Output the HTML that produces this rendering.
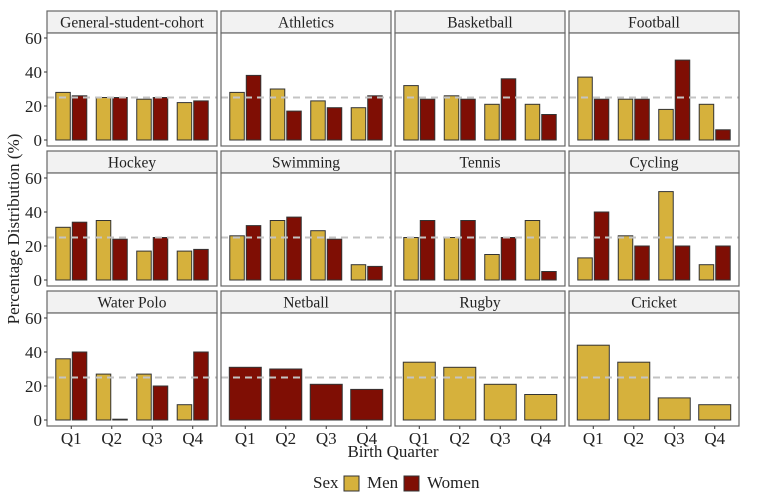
<!DOCTYPE html>
<html><head><meta charset="utf-8"><style>
html,body{margin:0;padding:0;background:#fff;}
svg{display:block;}
svg text{font-family:"Liberation Serif","DejaVu Serif",serif;}
</style></head><body>
<svg id="chart" width="777" height="502" viewBox="0 0 777 502"></svg>
<script>
const panels = ["General-student-cohort","Athletics","Basketball","Football","Hockey","Swimming","Tennis","Cycling","Water Polo","Netball","Rugby","Cricket"];
const quarters = ["Q1","Q2","Q3","Q4"];
const yTicks = [0,20,40,60];
const menValues = [
  [28,25,24,22],[28,30,23,19],[32,26,21,21],[37,24,18,21],
  [31,35,17,17],[26,35,29,9],[25,25,15,35],[13,26,52,9],
  [36,27,27,9],null,[34,31,21,15],[44,34,13,9]];
const womenValues = [
  [26,25,25,23],[38,17,19,26],[24,24,36,15],[24,24,47,6],
  [34,24,25,18],[32,37,24,8],[35,35,25,5],[40,20,20,20],
  [40,0,20,40],[31,30,21,18],null,null];
const refLine = 25;

const svg = document.getElementById('chart');
const NS = 'http://www.w3.org/2000/svg';
const FF = '"Liberation Serif", "DejaVu Serif", serif';
function mk(tag, attrs, parent){const e=document.createElementNS(NS,tag);for(const k in attrs)e.setAttribute(k,attrs[k]);if(tag==='text')e.setAttribute('font-family',FF);(parent||svg).appendChild(e);return e;}
const MEN='#d6b13c', WOMEN='#7f0e04';
const colX=[47,221,395,569], pw=170;
const rowTop=[11,151,291];
const unit=pw/4.2;

panels.forEach((name,i)=>{
  const c=i%4, r=Math.floor(i/4);
  const x0=colX[c], top=rowTop[r];
  const stripH=22, plotTop=top+stripH, plotBot=plotTop+113;
  const y0=plotTop+107, yScale=v=>y0-v*(102/60);
  const xScale=q=>x0+(0.6+q)*unit;
  const g=mk('g',{});
  
  
  const strip=mk('rect',{x:x0,y:top,width:pw,height:stripH,fill:'#f2f2f2',stroke:'#666','stroke-width':1.2},g);
  
  
  const st=mk('text',{x:x0+pw/2,y:top+16.5,'text-anchor':'middle','font-size':15.5,fill:'#222'},g);
  st.textContent=name;
  
  
  const bg=mk('rect',{x:x0,y:plotTop,width:pw,height:plotBot-plotTop,fill:'#fff',stroke:'none'},g);
  
  
  const m=menValues[i], w=womenValues[i];
  quarters.forEach((q,k)=>{
    const cx=xScale(k);
    const both=m&&w;
    const bw=both?14.5:32;
    if(m){const h=Math.max(0.8,y0-yScale(m[k]));const b=mk('rect',{x:both?cx-bw-1:cx-bw/2,y:y0-h,width:bw,height:h,fill:MEN,stroke:'#333','stroke-width':1},g);
      
      }
    if(w){const h=Math.max(0.8,y0-yScale(w[k]));const b=mk('rect',{x:both?cx+1:cx-bw/2,y:y0-h,width:bw,height:h,fill:WOMEN,stroke:'#333','stroke-width':1},g);
      
      }
  });
  const ln=mk('line',{x1:x0,x2:x0+pw,y1:yScale(refLine),y2:yScale(refLine),stroke:'#c4c4c4','stroke-width':2,'stroke-dasharray':'7,5'},g);
  
  
  const bd=mk('rect',{x:x0,y:plotTop,width:pw,height:plotBot-plotTop,fill:'none',stroke:'#666','stroke-width':1.2},g);
  
  
  if(c===0){
    yTicks.forEach(t=>{
      mk('line',{x1:x0-3,x2:x0,y1:yScale(t),y2:yScale(t),stroke:'#333'},g);
      const tl=mk('text',{x:x0-5,y:yScale(t)+6,'text-anchor':'end','font-size':17,fill:'#222'},g);
      tl.textContent=t;
      
      
    });
  }
  if(r===2){
    quarters.forEach((q,k)=>{
      mk('line',{x1:xScale(k),x2:xScale(k),y1:plotBot,y2:plotBot+3,stroke:'#333'},g);
      const tl=mk('text',{x:xScale(k),y:plotBot+18,'text-anchor':'middle','font-size':17,fill:'#222'},g);
      tl.textContent=q;
      
      
    });
  }
});

const xTitle=mk('text',{x:393,y:457,'text-anchor':'middle','font-size':17,fill:'#222'});
xTitle.textContent='Birth Quarter';


const yTitle=mk('text',{x:0,y:0,'text-anchor':'middle','font-size':17,fill:'#222',transform:'translate(19,229) rotate(-90)'});
yTitle.textContent='Percentage Distribution (%)';


const lt=mk('text',{x:313,y:488,'text-anchor':'start','font-size':17,fill:'#222'});
lt.textContent='Sex';


const k1=mk('rect',{x:344,y:476,width:15,height:15,fill:MEN,stroke:'#333'});


const t1=mk('text',{x:367,y:488,'font-size':17,fill:'#222'});
t1.textContent='Men';


const k2=mk('rect',{x:404,y:476,width:15,height:15,fill:WOMEN,stroke:'#333'});


const t2=mk('text',{x:427,y:488,'font-size':17,fill:'#222'});
t2.textContent='Women';


</script>
</body></html>
